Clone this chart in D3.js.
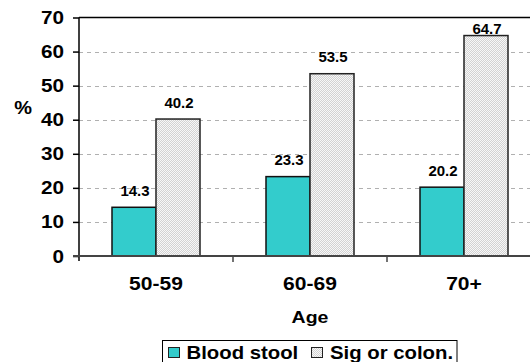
<!DOCTYPE html>
<html>
<head>
<meta charset="utf-8">
<script src="https://cdn.jsdelivr.net/npm/d3@7"></script>
<style>
  html, body { margin: 0; padding: 0; background: #fff; }
  svg { display: block; font-family: "Liberation Sans", Arial, sans-serif; font-weight: bold; }
</style>
</head>
<body>
<svg id="chart" width="530" height="362"></svg>
<script>
// Screening rates by age group
const categories = ["50-59", "60-69", "70+"];
const seriesNames = ["Blood stool", "Sig or colon."];
const bloodStool = [14.3, 23.3, 20.2];
const sigOrColon = [40.2, 53.5, 64.7];
const yTicks = [0, 10, 20, 30, 40, 50, 60, 70];

const svg = d3.select("#chart");
const x0 = 79, x1 = 541;        // plot area runs a little past the right edge
const yTop = 17.5, yBot = 256;

// Wide-set bold text: place at (x, y) and stretch horizontally about the anchor
function wideText(sel, x, y, size, sx, anchor, str) {
  return sel.append("text")
    .attr("transform", `translate(${x},${y}) scale(${sx},1)`)
    .attr("font-size", size)
    .attr("text-anchor", anchor)
    .text(str);
}

// Fine grey stipple used for the second series
const defs = svg.append("defs");
const pat = defs.append("pattern").attr("id", "stipple")
  .attr("width", 2).attr("height", 2).attr("patternUnits", "userSpaceOnUse");
pat.append("rect").attr("width", 2).attr("height", 2).attr("fill", "#f7f7f7");
pat.append("rect").attr("width", 1).attr("height", 1).attr("fill", "#d2d2d2");
pat.append("rect").attr("x", 1).attr("y", 1).attr("width", 1).attr("height", 1).attr("fill", "#d2d2d2");

const colors = ["#33CCCC", "url(#stipple)"];

const x = d3.scaleBand().domain(categories).range([x0, x1]);
const y = d3.scaleLinear().domain([0, 70]).range([yBot, yTop]);
const inner = d3.scaleBand().domain(seriesNames).range([0, x.bandwidth()]).paddingOuter(0.75);

// Grid lines
svg.append("g").selectAll("line")
  .data(yTicks.filter(t => t > 0 && t < 70))
  .join("line")
  .attr("x1", x0).attr("x2", x1)
  .attr("y1", d => Math.round(y(d)) + 0.5).attr("y2", d => Math.round(y(d)) + 0.5)
  .attr("stroke", "#b0b0b0").attr("stroke-width", 1)
  .attr("stroke-dasharray", "4,4");

// Top border
svg.append("line").attr("x1", x0).attr("x2", x1).attr("y1", y(70)).attr("y2", y(70))
  .attr("stroke", "#000").attr("stroke-width", 1.5);

// Y axis ticks and labels
const gy = svg.append("g").attr("transform", `translate(${x0},0)`)
  .call(d3.axisLeft(y).tickValues(yTicks).tickSize(6).tickFormat(() => ""));
gy.select(".domain").remove();
gy.selectAll(".tick line").attr("stroke", "#000").attr("stroke-width", 1.5);
yTicks.forEach(t => wideText(svg, 64, y(t) + 6.5, 18, 1.15, "end", d3.format("d")(t)));
svg.append("line").attr("x1", x0).attr("x2", x0).attr("y1", yTop).attr("y2", yBot + 5)
  .attr("stroke", "#000").attr("stroke-width", 1.5);

// Bars
const rows = categories.map((c, i) => ({ cat: c, vals: [bloodStool[i], sigOrColon[i]] }));
const groups = svg.append("g").selectAll("g").data(rows).join("g")
  .attr("transform", d => `translate(${x(d.cat)},0)`);
const cells = d => d.vals.map((v, j) => ({ v, j, name: seriesNames[j] }));
groups.selectAll("rect")
  .data(cells)
  .join("rect")
  .attr("x", d => inner(d.name))
  .attr("width", inner.bandwidth())
  .attr("y", d => y(d.v))
  .attr("height", d => y(0) - y(d.v))
  .attr("fill", d => colors[d.j])
  .attr("stroke", d => d.j === 0 ? "#111" : "#222").attr("stroke-width", 1.5);

// Value labels (kept inside the plot area near the top border)
groups.selectAll("text.val")
  .data(cells)
  .join("text").attr("class", "val")
  .attr("x", d => inner(d.name) + inner.bandwidth() / 2 + 1)
  .attr("y", d => Math.max(y(d.v) - 11.5, yTop + 16))
  .attr("text-anchor", "middle")
  .attr("font-size", 15)
  .text(d => d.v.toFixed(1));

// X baseline and ticks between categories
svg.append("line").attr("x1", x0 - 6).attr("x2", x1).attr("y1", yBot).attr("y2", yBot)
  .attr("stroke", "#444").attr("stroke-width", 2);
svg.append("g").selectAll("line").data(categories.slice(1)).join("line")
  .attr("x1", d => x(d)).attr("x2", d => x(d))
  .attr("y1", yBot).attr("y2", yBot + 6)
  .attr("stroke", "#444").attr("stroke-width", 1.5);
categories.forEach(c => wideText(svg, x(c) + x.bandwidth() / 2, 290, 18, 1.17, "middle", c));

// Axis titles
wideText(svg, 310, 323, 16, 1.22, "middle", "Age");
wideText(svg, 23, 114, 19, 1.05, "middle", "%");

// Legend
const lg = svg.append("g");
lg.append("rect").attr("x", 162.5).attr("y", 340.5).attr("width", 294.5).attr("height", 30)
  .attr("fill", "#fff").attr("stroke", "#000").attr("stroke-width", 1);
const legendPos = [{ sx: 168, tx: 186.5 }, { sx: 311, tx: 330 }];
seriesNames.forEach((name, i) => {
  lg.append("rect").attr("x", legendPos[i].sx + 0.5).attr("y", 347.5).attr("width", 11).attr("height", 10)
    .attr("fill", colors[i]).attr("stroke", "#222").attr("stroke-width", 1);
  wideText(lg, legendPos[i].tx, 359, 18, 1.13, "start", name);
});
</script>
</body>
</html>
